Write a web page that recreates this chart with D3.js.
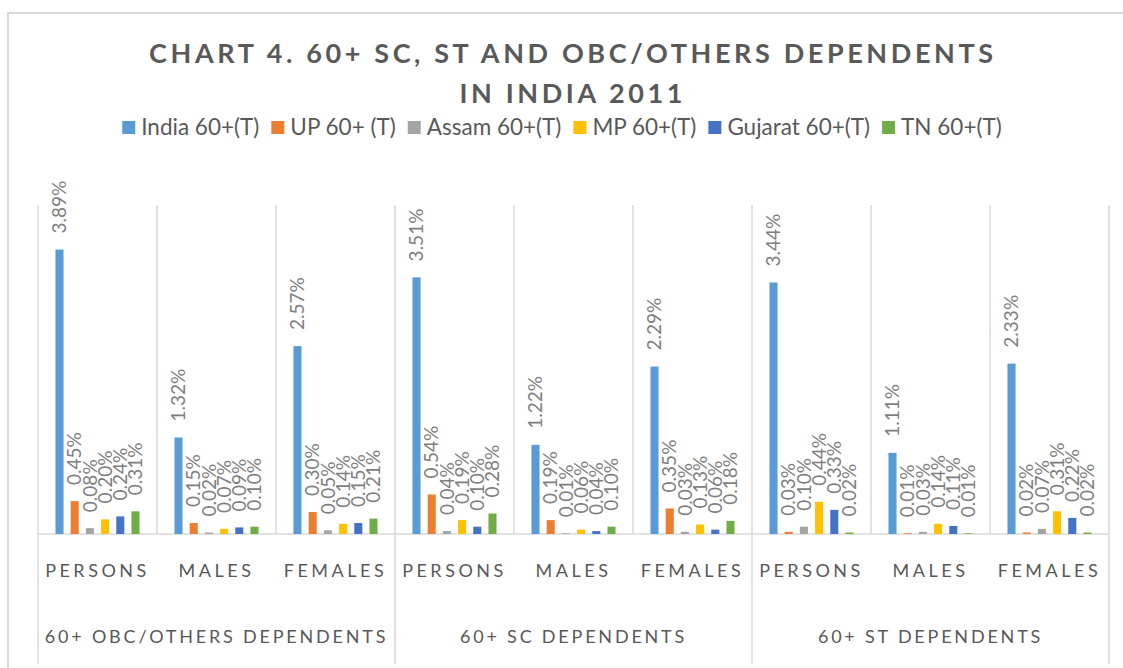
<!DOCTYPE html>
<html>
<head>
<meta charset="utf-8">
<script src="https://cdn.jsdelivr.net/npm/d3@7"></script>
<style>
  body { margin: 0; background: #fff; }
  text { font-family: Lato, "Open Sans", sans-serif; }
</style>
</head>
<body>
<script>
// categories
var groups = ["60+ OBC/OTHERS DEPENDENTS", "60+ SC DEPENDENTS", "60+ ST DEPENDENTS"];
var sexes = ["PERSONS", "MALES", "FEMALES"];
var seriesNames = ["India 60+(T)", "UP 60+ (T)", "Assam 60+(T)", "MP 60+(T)", "Gujarat 60+(T)", "TN 60+(T)"];
var seriesColors = ["#5b9bd5", "#ed7d31", "#a5a5a5", "#ffc000", "#4472c4", "#70ad47"];

// values in %, one per category (OBC P/M/F, SC P/M/F, ST P/M/F)
var india   = [3.89, 1.32, 2.57, 3.51, 1.22, 2.29, 3.44, 1.11, 2.33];
var up      = [0.45, 0.15, 0.30, 0.54, 0.19, 0.35, 0.03, 0.01, 0.02];
var assam   = [0.08, 0.02, 0.05, 0.04, 0.01, 0.03, 0.10, 0.03, 0.07];
var mp      = [0.20, 0.07, 0.14, 0.19, 0.06, 0.13, 0.44, 0.14, 0.31];
var gujarat = [0.24, 0.09, 0.15, 0.10, 0.04, 0.06, 0.33, 0.11, 0.22];
var tn      = [0.31, 0.10, 0.21, 0.28, 0.10, 0.18, 0.02, 0.01, 0.02];
var seriesValues = [india, up, assam, mp, gujarat, tn];

var yTicks = [0, 4.5];

var width = 1123, height = 668;
var plot = {left: 38, right: 1109, top: 205, bottom: 534};
var textGrey = "#595959", gridGrey = "#d9d9d9";

var svg = d3.select("body").append("svg")
    .attr("width", width)
    .attr("height", height);

// chart border (only top and left show in the frame)
svg.append("path")
    .attr("d", "M8,670 V13 H1130")
    .attr("fill", "none")
    .attr("stroke", gridGrey)
    .attr("stroke-width", 2);

var cats = [];
groups.forEach(function(g, gi) {
  sexes.forEach(function(s, si) { cats.push({group: g, sex: s, i: gi * 3 + si}); });
});

var x0 = d3.scaleBand()
    .domain(cats.map(function(d) { return d.i; }))
    .range([plot.left, plot.right]);

var x1 = d3.scaleBand()
    .domain(d3.range(seriesNames.length))
    .range([0, x0.bandwidth()])
    .paddingInner(0.47)
    .paddingOuter(1.15);

var y = d3.scaleLinear()
    .domain(yTicks)
    .range([plot.bottom, plot.top]);

// vertical gridlines between categories
var bounds = d3.range(cats.length + 1);
svg.append("g").selectAll("line")
    .data(bounds)
    .enter().append("line")
      .attr("x1", function(i) { return plot.left + i * x0.step(); })
      .attr("x2", function(i) { return plot.left + i * x0.step(); })
      .attr("y1", plot.top)
      .attr("y2", function(i) { return i % 3 == 0 ? 664 : plot.bottom; })
      .attr("stroke", gridGrey)
      .attr("stroke-width", 1.5);

// baseline
svg.append("line")
    .attr("x1", plot.left).attr("x2", plot.right)
    .attr("y1", y(0)).attr("y2", y(0))
    .attr("stroke", gridGrey)
    .attr("stroke-width", 1.5);

// bars
var catG = svg.append("g").selectAll("g")
    .data(cats)
    .enter().append("g")
      .attr("transform", function(d) { return "translate(" + x0(d.i) + ",0)"; });

var barData = function(c) {
  return seriesValues.map(function(vals, k) { return {k: k, v: vals[c.i]}; });
};

catG.selectAll("rect")
    .data(barData)
    .enter().append("rect")
      .attr("x", function(d) { return x1(d.k); })
      .attr("width", x1.bandwidth())
      .attr("y", function(d) { return y(d.v); })
      .attr("height", function(d) { return y(0) - y(d.v); })
      .attr("fill", function(d) { return seriesColors[d.k]; });

// data labels, rotated
catG.selectAll("text.lbl")
    .data(barData)
    .enter().append("text")
      .attr("class", "lbl")
      .attr("transform", function(d) {
        return "translate(" + (x1(d.k) + x1.bandwidth() / 2) + "," + (y(d.v) - 16) + ") rotate(-90)";
      })
      .attr("dy", "0.35em")
      .attr("fill", "#7f7f7f")
      .style("font-size", "19px")
      .text(function(d) { return d.v.toFixed(2) + "%"; });

// category labels
svg.append("g").selectAll("text")
    .data(cats)
    .enter().append("text")
      .attr("x", function(d) { return x0(d.i) + x0.bandwidth() / 2; })
      .attr("y", 577)
      .attr("text-anchor", "middle")
      .attr("fill", textGrey)
      .style("font-size", "18px")
      .style("letter-spacing", "3.5px")
      .text(function(d) { return d.sex; });

// group labels
svg.append("g").selectAll("text")
    .data(groups)
    .enter().append("text")
      .attr("x", function(d, i) { return plot.left + (i * 3 + 1.5) * x0.step(); })
      .attr("y", 643)
      .attr("text-anchor", "middle")
      .attr("fill", textGrey)
      .style("font-size", "18px")
      .style("letter-spacing", "2.8px")
      .text(function(d) { return d; });

// title
var title = ["CHART 4. 60+ SC, ST AND OBC/OTHERS DEPENDENTS", "IN INDIA 2011"];
var titleLen = [844, 223];
svg.append("g").selectAll("text")
    .data(title)
    .enter().append("text")
      .attr("x", 571)
      .attr("y", function(d, i) { return 63 + i * 40; })
      .attr("text-anchor", "middle")
      .attr("fill", textGrey)
      .attr("textLength", function(d, i) { return titleLen[i]; })
      .attr("lengthAdjust", "spacing")
      .style("font-size", "27px")
      .style("font-weight", "bold")
      .text(function(d) { return d; });

// legend
var legend = svg.append("g");
var items = legend.selectAll("g")
    .data(seriesNames)
    .enter().append("g");
items.append("rect")
    .attr("width", 13).attr("height", 13)
    .attr("y", 121)
    .attr("fill", function(d, i) { return seriesColors[i]; });
items.append("text")
    .attr("x", 19)
    .attr("y", 135)
    .attr("fill", textGrey)
    .style("font-size", "22.5px")
    .text(function(d) { return d; });

var pos = 0, offsets = [];
items.each(function() {
  offsets.push(pos);
  pos += this.getBBox().width + 12;
});
var start = 562 - (pos - 12) / 2;
items.attr("transform", function(d, i) { return "translate(" + (start + offsets[i]) + ",0)"; });
</script>
</body>
</html>
